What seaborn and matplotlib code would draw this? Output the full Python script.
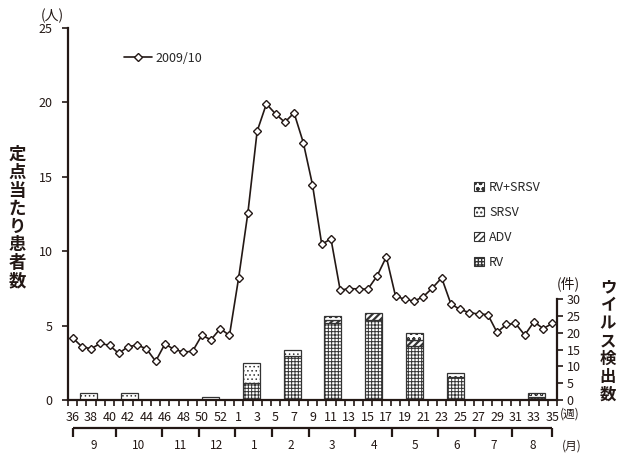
import numpy as np
import pandas as pd
import matplotlib
matplotlib.use("Agg")
import matplotlib.pyplot as plt
import matplotlib.transforms as mtransforms
from matplotlib.patches import Patch
from matplotlib.lines import Line2D
import seaborn as sns

sns.set_theme(style="white")
plt.rcParams["font.family"] = ["Noto Sans CJK JP", "DejaVu Sans"]

# ---- data -------------------------------------------------------------
weeks = list(range(36, 54)) + list(range(1, 36))          # 2009/36 .. 2010/35
patients = [4.18, 3.58, 3.44, 3.80, 3.67, 3.13, 3.58, 3.69, 3.44, 2.60,
            3.76, 3.40, 3.22, 3.27, 4.34, 4.05, 4.79, 4.34, 8.22, 12.58,
            18.05, 19.88, 19.21, 18.65, 19.28, 17.29, 14.45, 10.46, 10.82, 7.38,
            7.48, 7.46, 7.44, 8.33, 9.61, 6.97, 6.77, 6.64, 6.93, 7.53,
            8.20, 6.45, 6.08, 5.87, 5.77, 5.74, 4.54, 5.07, 5.14, 4.36,
            5.25, 4.80, 5.14]

months = ["9", "10", "11", "12", "1", "2", "3", "4", "5", "6", "7", "8"]
month_start_weeks = [36, 41, 46, 50, 1, 5, 9, 14, 18, 23, 27, 31, 35]

rv      = [0, 0, 0, 0, 5, 13, 23, 24, 16, 7, 0, 1]
adv     = [0, 0, 0, 0, 0, 0, 1, 2, 2, 0, 0, 0]
srsv    = [2, 2, 0, 1, 6, 2, 0, 0, 0, 0, 0, 0]
rv_srsv = [0, 0, 0, 0, 0, 0, 1, 0, 2, 1, 0, 1]

series_label = "2009/10"
ink = "#231815"

# ---- figure ----------------------------------------------------------
fig = plt.figure(figsize=(6.19, 4.54), dpi=100)
W, H = 619, 454
ax = fig.add_axes([68 / W, 1 - 400 / H, (557 - 68) / W, (400 - 27.7) / H])
ax2 = ax.twinx()
ax.set_zorder(ax2.get_zorder() + 1)
ax.patch.set_visible(False)

n = len(weeks)
df = pd.DataFrame({"idx": np.arange(n), "patients": patients})

# stacked virus-detection bars, one per month on an even monthly grid
month_w = n / 12
bar_x = -0.5 + (np.arange(12) + 0.5) * month_w
bar_w = 1.84
layers = [(rv, "+++++", 0.7, "RV"),
          (adv, "/////", 1.6, "ADV"),
          (srsv, "....", 0.6, "SRSV"),
          (rv_srsv, "ooo", 0.6, "RV+SRSV")]
bottom = np.zeros(12)
legend_handles = {}
for vals, hatch, hlw, lab in layers:
    vals = np.asarray(vals, dtype=float)
    with plt.rc_context({"hatch.linewidth": hlw, "hatch.color": "#2a2a2a"}):
        bars = ax2.bar(bar_x, vals, width=bar_w, bottom=bottom, color="white",
                       edgecolor="#333333", linewidth=0.9, hatch=hatch)
        legend_handles[lab] = Patch(facecolor="white", edgecolor="#333333",
                                    hatch=hatch, linewidth=0.8)
    for b, v in zip(bars, vals):
        if v == 0:
            b.set_visible(False)
    bottom += vals

# weekly patients per sentinel site
sns.lineplot(data=df, x="idx", y="patients", ax=ax, color=ink, linewidth=1.2,
             marker="D", markersize=4.2, markerfacecolor="white",
             markeredgecolor=ink, markeredgewidth=1.0, legend=False)

# ---- axes ------------------------------------------------------------
ax.set_xlim(-0.5, n - 0.5)
ax.set_ylim(0, 25)
ax2.set_ylim(0, 111)
ax.set_xlabel("")
ax.set_ylabel("")

for s in ["top", "right"]:
    ax.spines[s].set_visible(False)
for s in ["top", "left", "bottom"]:
    ax2.spines[s].set_visible(False)
for s in ["left", "bottom"]:
    ax.spines[s].set_color(ink)
    ax.spines[s].set_linewidth(1.6)
ax2.spines["right"].set_color(ink)
ax2.spines["right"].set_linewidth(1.6)
ax2.spines["right"].set_bounds(0, 30)

ax.set_yticks(range(0, 26, 5))
ax.tick_params(axis="y", direction="out", length=4, width=1.2, color=ink,
               labelsize=9, pad=7, labelcolor=ink, left=True)
ax2.set_yticks(range(0, 31, 5))
ax2.tick_params(axis="y", direction="out", length=4, width=1.2, color=ink,
                labelsize=9, pad=3, labelcolor=ink, right=True)

label_idx = [i for i in range(n) if i % 2 == 0]
ax.set_xticks(label_idx)
ax.set_xticklabels([str(weeks[i]) for i in label_idx])
ax.set_xticks(np.arange(-0.5, n, 1.0), minor=True)
ax.tick_params(axis="x", which="major", length=0, labelsize=9, pad=8,
               labelcolor=ink, bottom=True)
ax.tick_params(axis="x", which="minor", direction="out", length=4, width=1.2,
               color=ink, bottom=True)
ax.grid(False)
ax2.grid(False)

# month bracket below the week labels
trans = mtransforms.blended_transform_factory(ax.transData, ax.transAxes)
y_line = -(428 - 400) / 373
y_tick = -(437 - 400) / 373
y_mlab = -(446 - 400) / 373
last = len(month_start_weeks) - 1
pos = []
for k, w in enumerate(month_start_weeks):
    i = n - 1 if k == last else weeks.index(w)
    off = 0 if k in (0, last) else -0.35
    pos.append(i + off)
ax.plot([pos[0], pos[-1]], [y_line, y_line], transform=trans, color=ink,
        lw=1.6, clip_on=False, solid_capstyle="butt")
for p in pos:
    ax.plot([p, p], [y_line, y_tick], transform=trans, color=ink, lw=1.6,
            clip_on=False, solid_capstyle="butt")
for k, m in enumerate(months):
    ax.text((pos[k] + pos[k + 1]) / 2, y_mlab, m, transform=trans,
            ha="center", va="center", fontsize=8.5, color=ink)

# unit labels
fig.text(570 / W, 1 - 414 / H, "(週)", ha="center", va="center",
         fontsize=8.5, color=ink)
fig.text(572 / W, 1 - 446 / H, "(月)", ha="center", va="center",
         fontsize=8.5, color=ink)
fig.text(52 / W, 1 - 16 / H, "(人)", ha="center", va="center",
         fontsize=10, color=ink)
fig.text(568 / W, 1 - 284 / H, "(件)", ha="center", va="center",
         fontsize=10, color=ink)

# vertical axis titles, one character per line
fig.text(17 / W, 1 - 218 / H, "\n".join("定点当たり患者数"), ha="center",
         va="center", fontsize=12.5, linespacing=1.0, color=ink,
         fontweight="bold")
fig.text(608 / W, 1 - 341 / H, "\n".join("ウイルス検出数"), ha="center",
         va="center", fontsize=11.8, linespacing=1.0, color=ink,
         fontweight="bold")

# legends
line_handle = Line2D([], [], color=ink, lw=1.2, marker="D", markersize=4.2,
                     markerfacecolor="white", markeredgecolor=ink,
                     markeredgewidth=1.0)
fig.legend([line_handle], [series_label], loc="center left",
           bbox_to_anchor=(124 / W, 1 - 58 / H), frameon=False,
           fontsize=9, handlelength=2.2, handletextpad=0.3,
           borderpad=0, borderaxespad=0)
order = ["RV+SRSV", "SRSV", "ADV", "RV"]
fig.legend([legend_handles[o] for o in order], order,
           loc="upper left", bbox_to_anchor=(474 / W, 1 - 181 / H),
           frameon=False, fontsize=9, handlelength=0.8,
           handleheight=0.8, handletextpad=0.4, labelspacing=0.95,
           borderpad=0, borderaxespad=0)

fig.savefig("out.png", dpi=100)
